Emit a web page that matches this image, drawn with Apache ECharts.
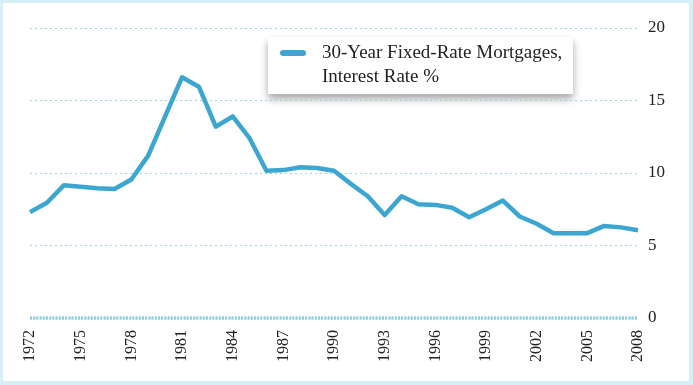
<!DOCTYPE html>
<html>
<head>
<meta charset="utf-8">
<script src="https://cdn.jsdelivr.net/npm/echarts@6/dist/echarts.min.js"></script>
<style>
html,body{margin:0;padding:0;background:#d6eef6;}
#wrap{position:absolute;left:3px;top:3px;width:686px;height:378px;background:#fff;}
#chart{position:absolute;left:-3px;top:-3px;width:693px;height:385px;}
</style>
</head>
<body>
<div id="wrap"><div id="chart"></div></div>
<script>
const years = ["1972","1973","1974","1975","1976","1977","1978","1979","1980","1981","1982","1983","1984","1985","1986","1987","1988","1989","1990","1991","1992","1993","1994","1995","1996","1997","1998","1999","2000","2001","2002","2003","2004","2005","2006","2007","2008"];
const rates = [7.3,7.95,9.15,9.05,8.95,8.9,9.55,11.2,13.9,16.6,15.95,13.2,13.9,12.4,10.15,10.2,10.4,10.35,10.15,9.25,8.4,7.1,8.4,7.85,7.8,7.6,6.95,7.5,8.1,7.0,6.5,5.85,5.85,5.85,6.35,6.25,6.05];
const yTicks = [0,5,10,15,20];
const seriesName = "30-Year Fixed-Rate Mortgages,\nInterest Rate %";

const chart = echarts.init(document.getElementById('chart'), null, {renderer:'canvas'});
const serif = '"Liberation Serif","DejaVu Serif",serif';
chart.setOption({
  animation:false,
  backgroundColor:'transparent',
  grid:{left:30,right:55,top:28,bottom:67},
  graphic:[{
    type:'rect', left:268, top:37, z:-1, silent:true,
    shape:{width:305,height:57},
    style:{fill:'#fff',shadowBlur:8,shadowColor:'rgba(0,0,0,0.35)',shadowOffsetY:5}
  }],
  legend:{
    left:268, top:41,
    padding:[0,0,0,12],
    itemWidth:26, itemHeight:30, itemGap:0,
    icon:'path://M3,0L23,0A3,3,0,0,1,23,6L3,6A3,3,0,0,1,3,0Z M0,30 M26,0',
    textStyle:{fontFamily:serif,fontSize:19,color:'#222',lineHeight:24,padding:[0,0,0,11]},
    data:[seriesName]
  },
  xAxis:{
    type:'category', data:years, boundaryGap:false,
    axisLine:{show:false},
    axisTick:{show:false},
    axisLabel:{rotate:90,interval:2,fontFamily:serif,fontSize:16,color:'#222',margin:12},
    splitLine:{show:false}
  },
  yAxis:{
    type:'value', position:'right', min:yTicks[0], max:yTicks[yTicks.length-1], interval:5,
    axisLine:{show:false}, axisTick:{show:false},
    axisLabel:{fontFamily:serif,fontSize:17,color:'#222',margin:10,
      formatter:v=>yTicks.includes(v)?String(v):''},
    splitLine:{lineStyle:{color:'#9fd3e3',width:1,type:[2,3]}}
  },
  series:[{
    name:seriesName, type:'line', data:rates, symbol:'none', clip:false,
    lineStyle:{color:'#3ba7d0',width:4.5,join:'round'},
    itemStyle:{color:'#3ba7d0'},
    markLine:{
      silent:true, symbol:'none', label:{show:false}, animation:false,
      lineStyle:{color:'#8fcde0',width:3.5,type:[2,1.2],opacity:1},
      data:[{yAxis:0}]
    }
  }]
});
</script>
</body>
</html>
